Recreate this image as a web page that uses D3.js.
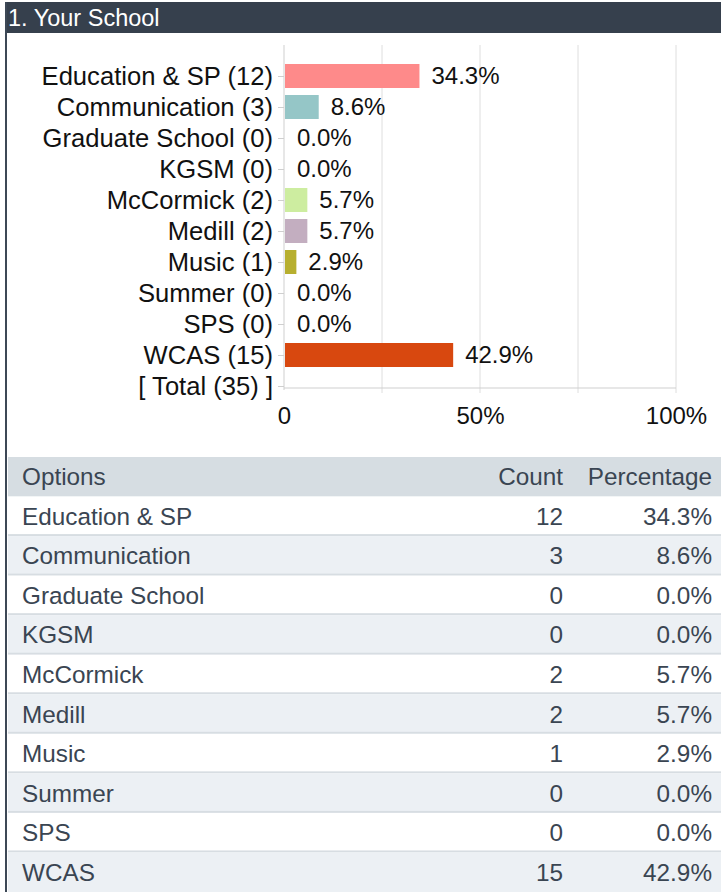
<!DOCTYPE html>
<html>
<head>
<meta charset="utf-8">
<script src="https://cdn.jsdelivr.net/npm/d3@7"></script>
<style>
  html, body { margin: 0; padding: 0; background: #fff; }
  svg { display: block; font-family: "Liberation Sans", Arial, sans-serif; }
</style>
</head>
<body>
<svg width="721" height="892"></svg>
<script>
// survey data
const title = '1. Your School';
const schools = ['Education & SP', 'Communication', 'Graduate School', 'KGSM', 'McCormick',
  'Medill', 'Music', 'Summer', 'SPS', 'WCAS'];
const counts = [12, 3, 0, 0, 2, 2, 1, 0, 0, 15];
const percents = [34.3, 8.6, 0.0, 0.0, 5.7, 5.7, 2.9, 0.0, 0.0, 42.9];
const total = 35;
const barColors = ['#fe8a8a', '#95c6c7', '#cccccc', '#cccccc', '#cdeda0',
  '#c3aec0', '#b7af2f', '#cccccc', '#cccccc', '#d8480f'];
const xTickValues = [0, 50, 100];
const gridValues = [25, 50, 75, 100];
const tableHeaders = ['Options', 'Count', 'Percentage'];

const svg = d3.select('svg');
const W = 721;

const rows = schools.map((s, i) => ({
  name: s,
  count: counts[i],
  pct: percents[i],
  label: `${s} (${counts[i]})`,
  color: barColors[i]
}));
const totalLabel = `[ Total (${total}) ]`;

// header bar
svg.append('rect')
  .attr('x', 5).attr('y', 2)
  .attr('width', W - 5).attr('height', 31)
  .attr('fill', '#36404d');
svg.append('text')
  .attr('x', 8).attr('y', 26)
  .attr('fill', '#fff')
  .attr('font-size', 23.5)
  .text(title);

// left border of the panel
svg.append('rect')
  .attr('x', 5).attr('y', 2)
  .attr('width', 2).attr('height', 890)
  .attr('fill', '#3d4856');

// ---- bar chart ----
const x = d3.scaleLinear().domain([0, 100]).range([284, 676]);
const y = d3.scalePoint()
  .domain(rows.map(d => d.label).concat([totalLabel]))
  .range([76, 386]);
const plotTop = 45, plotBase = 388, barH = 24;

const chart = svg.append('g').attr('font-size', 24);

chart.selectAll('.grid').data(gridValues)
  .enter().append('line')
    .attr('class', 'grid')
    .attr('x1', d => x(d)).attr('x2', d => x(d))
    .attr('y1', plotTop).attr('y2', plotBase + 5)
    .attr('stroke', '#dedede');

// axis lines
chart.append('line')
  .attr('x1', x(0)).attr('x2', x(100))
  .attr('y1', plotBase).attr('y2', plotBase)
  .attr('stroke', '#cfcfcf');
chart.append('line')
  .attr('x1', x(0)).attr('x2', x(0))
  .attr('y1', plotTop).attr('y2', plotBase + 2)
  .attr('stroke', '#cfcfcf');

// y ticks + labels
const yAxis = d3.axisLeft(y).tickSize(6).tickPadding(5);
const yG = chart.append('g')
  .attr('transform', `translate(${x(0)},0)`)
  .call(yAxis);
yG.select('.domain').remove();
yG.selectAll('.tick line').attr('stroke', '#cfcfcf');
yG.selectAll('.tick text')
  .attr('font-size', 25.6)
  .attr('font-family', '"Liberation Sans", Arial, sans-serif')
  .attr('fill', '#111');

// x tick labels
const xAxis = d3.axisBottom(x).tickValues(xTickValues)
  .tickSize(0).tickPadding(19)
  .tickFormat(d => d === 0 ? '0' : d + '%');
const xG = chart.append('g')
  .attr('transform', `translate(0,${plotBase})`)
  .call(xAxis);
xG.select('.domain').remove();
xG.selectAll('.tick text')
  .attr('font-size', 24)
  .attr('font-family', '"Liberation Sans", Arial, sans-serif')
  .attr('fill', '#111');

// bars
chart.selectAll('.bar').data(rows.filter(d => d.pct > 0))
  .enter().append('rect')
    .attr('class', 'bar')
    .attr('x', x(0) + 1)
    .attr('y', d => y(d.label) - barH / 2)
    .attr('width', d => x(d.pct) - x(0))
    .attr('height', barH)
    .attr('fill', d => d.color);

chart.selectAll('.val').data(rows)
  .enter().append('text')
    .attr('class', 'val')
    .attr('x', d => x(d.pct) + 13)
    .attr('y', d => y(d.label))
    .attr('dy', '0.35em')
    .attr('fill', '#111')
    .text(d => d.pct.toFixed(1) + '%');

// ---- table ----
const ty = d3.scaleBand()
  .domain(['__head'].concat(schools))
  .range([457, 892]);
const table = svg.append('g').attr('font-size', 24.3).attr('fill', '#3a4552');

table.append('rect')
  .attr('x', 8).attr('y', ty('__head'))
  .attr('width', W - 8).attr('height', ty.bandwidth())
  .attr('fill', '#d6dde2');

const cols = [
  { x: 22, anchor: 'start' },
  { x: 563, anchor: 'end' },
  { x: 712, anchor: 'end' }
];
table.selectAll('.th').data(tableHeaders)
  .enter().append('text')
    .attr('class', 'th')
    .attr('x', (d, i) => cols[i].x)
    .attr('y', ty('__head') + ty.bandwidth() / 2)
    .attr('dy', '0.35em')
    .attr('text-anchor', (d, i) => cols[i].anchor)
    .text(d => d);

const tr = table.selectAll('.tr').data(rows)
  .enter().append('g')
    .attr('class', 'tr')
    .attr('transform', d => `translate(0,${ty(d.name)})`);
tr.append('rect')
  .attr('x', 8).attr('width', W - 8)
  .attr('height', ty.bandwidth())
  .attr('fill', (d, i) => i % 2 ? '#ecf0f4' : '#fff');
tr.append('rect')
  .attr('x', 8).attr('width', W - 8)
  .attr('y', ty.bandwidth() - 2)
  .attr('height', 2)
  .attr('fill', (d, i) => i === rows.length - 1 ? 'none' : '#d7dde2');
tr.selectAll('text')
  .data(d => [d.name, d.count, d.pct.toFixed(1) + '%'])
  .enter().append('text')
    .attr('x', (d, i) => cols[i].x)
    .attr('y', ty.bandwidth() / 2)
    .attr('dy', '0.35em')
    .attr('text-anchor', (d, i) => cols[i].anchor)
    .text(d => d);
</script>
</body>
</html>
